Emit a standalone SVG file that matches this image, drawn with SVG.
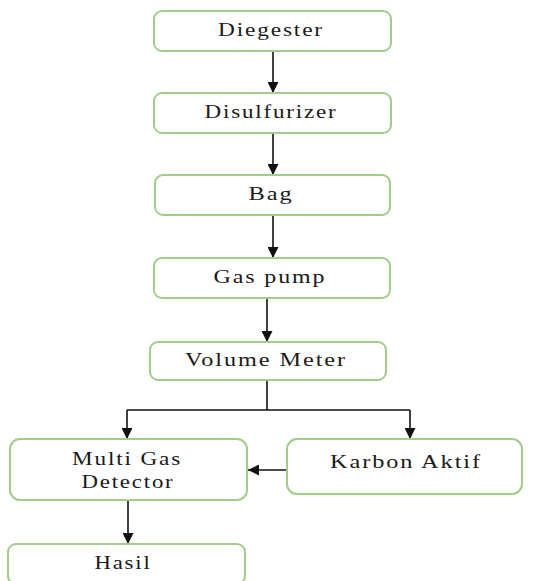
<svg xmlns="http://www.w3.org/2000/svg" width="553" height="581" viewBox="0 0 553 581">
<defs>
<style>
.box{fill:#ffffff;stroke:#a3cc8a;stroke-width:2}
.lbl{font-family:"Liberation Serif","DejaVu Serif",serif;font-size:19px;letter-spacing:1.5px;fill:#1a1a1a;text-anchor:middle}
.con{fill:none;stroke:#111;stroke-width:1.6}
</style>
<marker id="ah" viewBox="0 0 10 10" refX="10" refY="5" markerWidth="11" markerHeight="11" markerUnits="userSpaceOnUse" orient="auto">
<path d="M0,0 L10,5 L0,10 Z" fill="#111"/>
</marker>
</defs>
<rect width="553" height="581" fill="#ffffff"/>
<g id="connectors">
<line class="con" x1="273" y1="52" x2="273" y2="93" marker-end="url(#ah)"/>
<line class="con" x1="273" y1="134" x2="273" y2="175" marker-end="url(#ah)"/>
<line class="con" x1="273" y1="216" x2="273" y2="258" marker-end="url(#ah)"/>
<line class="con" x1="267" y1="299" x2="267" y2="342" marker-end="url(#ah)"/>
<polyline class="con" points="267,381 267,410"/>
<line class="con" x1="127" y1="410" x2="410" y2="410"/>
<line class="con" x1="127" y1="410" x2="127" y2="439" marker-end="url(#ah)"/>
<line class="con" x1="410" y1="410" x2="410" y2="439" marker-end="url(#ah)"/>
<line class="con" x1="287" y1="470" x2="248" y2="470" marker-end="url(#ah)"/>
<line class="con" x1="128" y1="501" x2="128" y2="544" marker-end="url(#ah)"/>
</g>
<g id="diegester">
<rect class="box" x="154" y="11" width="237" height="40" rx="8"/>
<text class="lbl" x="271" y="36" textLength="106" lengthAdjust="spacingAndGlyphs">Diegester</text>
</g>
<g id="disulfurizer">
<rect class="box" x="154" y="93" width="237" height="40" rx="8"/>
<text class="lbl" x="271" y="118" textLength="133" lengthAdjust="spacingAndGlyphs">Disulfurizer</text>
</g>
<g id="bag">
<rect class="box" x="155" y="175" width="235" height="40" rx="8"/>
<text class="lbl" x="271" y="200" textLength="45" lengthAdjust="spacingAndGlyphs">Bag</text>
</g>
<g id="gaspump">
<rect class="box" x="154" y="258" width="236" height="40" rx="8"/>
<text class="lbl" x="270" y="283" textLength="113" lengthAdjust="spacingAndGlyphs">Gas pump</text>
</g>
<g id="volumemeter">
<rect class="box" x="150" y="342" width="236" height="38" rx="8"/>
<text class="lbl" x="266" y="366" textLength="162" lengthAdjust="spacingAndGlyphs">Volume Meter</text>
</g>
<g id="multigas">
<rect class="box" x="10" y="439" width="237" height="61" rx="10"/>
<text class="lbl" x="127" y="465" textLength="110" lengthAdjust="spacingAndGlyphs">Multi Gas</text>
<text class="lbl" x="128" y="488" textLength="93" lengthAdjust="spacingAndGlyphs">Detector</text>
</g>
<g id="karbon">
<rect class="box" x="287" y="439" width="235" height="55" rx="10"/>
<text class="lbl" x="406" y="468" textLength="152" lengthAdjust="spacingAndGlyphs">Karbon Aktif</text>
</g>
<g id="hasil">
<rect class="box" x="8" y="544" width="237" height="40" rx="8"/>
<text class="lbl" x="123" y="569" textLength="57" lengthAdjust="spacingAndGlyphs">Hasil</text>
</g>
</svg>
